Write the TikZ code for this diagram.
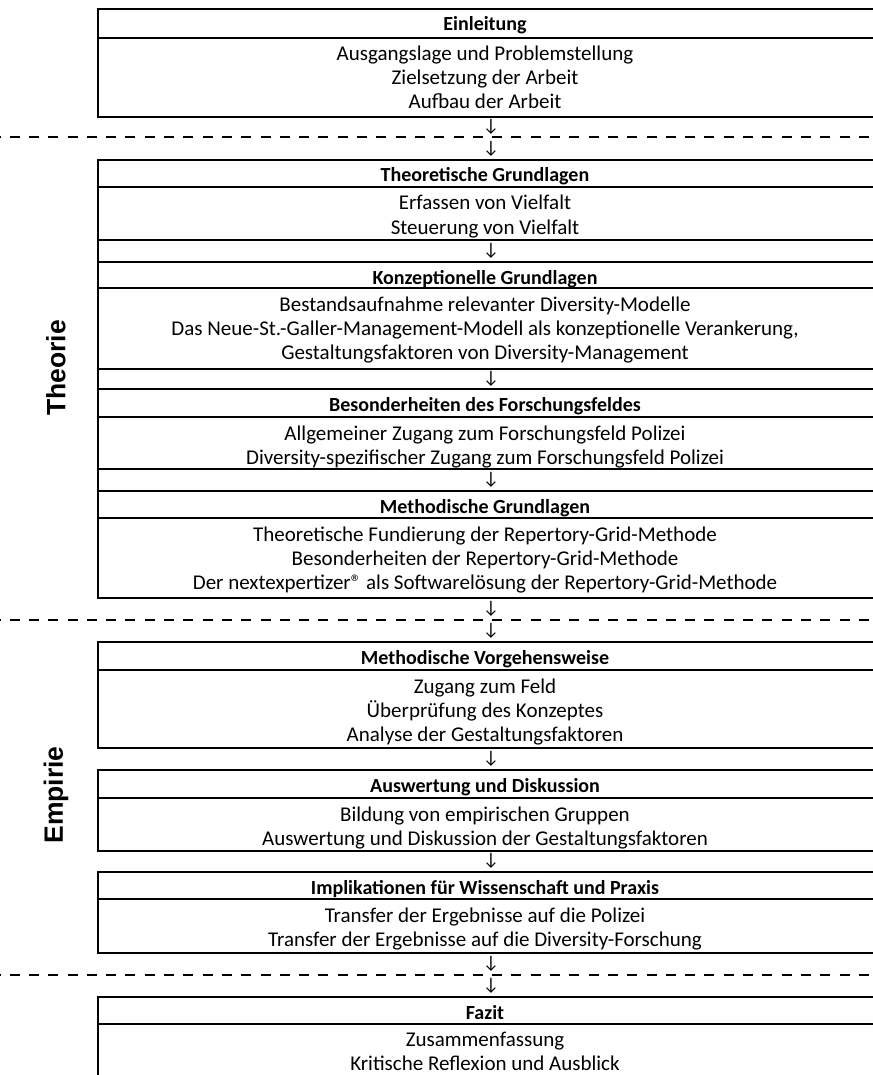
\documentclass[tikz,border=0pt]{standalone}
\usepackage{fontspec}
\setmainfont{Carlito}
\newfontfamily\sidefont{Liberation Sans}

% horizontal rule of the table
\newcommand\tabrule[1]{\draw[rule] (98,#1) -- (872,#1);}
% dashed separator between the parts
\newcommand\partrule[1]{\draw[partsep] (0,#1) -- (872,#1);}

\begin{document}
\begin{tikzpicture}[x=1pt,y=-1pt,
  rule/.style={line width=2.6pt, line cap=rect},
  partsep/.style={line width=2.8pt, dash pattern=on 10pt off 9.3pt, dash phase=9.7pt},
  head/.style={font=\fontsize{20}{24}\selectfont\bfseries, anchor=base, inner sep=0pt},
  body/.style={font=\fontsize{21}{24}\selectfont, anchor=base, inner sep=0pt},
  down/.style={font=\fontsize{18}{20}\selectfont, anchor=center, inner sep=0pt},
  side/.style={font=\sidefont\fontsize{26.5}{30}\selectfont\bfseries, rotate=90, anchor=center, inner sep=0pt}]
\useasboundingbox (0,0) rectangle (872,1075);

% ---------- Einleitung ----------
\tabrule{9}\tabrule{38}\tabrule{117}
\draw[rule] (98,9) -- (98,117);
\node[head] (h1) at (485,31) {Einleitung};
\node[body] (e1) at (485,61) {Ausgangslage und Problemstellung};
\node[body] (e2) at (485,85) {Zielsetzung der Arbeit};
\node[body] (e3) at (485,109) {Aufbau der Arbeit};

\partrule{137}
\node[down] (a1) at (491,127) {↓};
\node[down] (a2) at (491,149) {↓};

% ---------- Theorie ----------
\tabrule{160}\tabrule{187}\tabrule{240}\tabrule{262}\tabrule{288}
\tabrule{369}\tabrule{389}\tabrule{417}\tabrule{469}\tabrule{491}
\tabrule{518}\tabrule{598}
\draw[rule] (98,160) -- (98,598);
\node[side] (theorie) at (56,368) {Theorie};

\node[head] (h2) at (485,182) {Theoretische Grundlagen};
\node[body] (t1) at (485,210) {Erfassen von Vielfalt};
\node[body] (t2) at (485,234) {Steuerung von Vielfalt};
\node[down] (a3) at (491,251) {↓};

\node[head] (h3) at (485,284) {Konzeptionelle Grundlagen};
\node[body] (k1) at (485,311) {Bestandsaufnahme relevanter Diversity-Modelle};
\node[body] (k2) at (485,335) {Das Neue-St.-Galler-Management-Modell als konzeptionelle Verankerung,};
\node[body] (k3) at (485,359) {Gestaltungsfaktoren von Diversity-Management};
\node[down] (a4) at (491,379) {↓};

\node[head] (h4) at (485,411) {Besonderheiten des Forschungsfeldes};
\node[body] (b1) at (485,440) {Allgemeiner Zugang zum Forschungsfeld Polizei};
\node[body] (b2) at (485,464) {Diversity-spezifischer Zugang zum Forschungsfeld Polizei};
\node[down] (a5) at (491,480) {↓};

\node[head] (h5) at (485,513) {Methodische Grundlagen};
\node[body] (m1) at (485,541) {Theoretische Fundierung der Repertory-Grid-Methode};
\node[body] (m2) at (485,565) {Besonderheiten der Repertory-Grid-Methode};
\node[body] (m3) at (485,589) {Der nextexpertizer® als Softwarelösung der Repertory-Grid-Methode};

\partrule{620}
\node[down] (a6) at (491,609) {↓};
\node[down] (a7) at (491,631) {↓};

% ---------- Empirie ----------
\node[side] (empirie) at (56,795) {Empirie};

\tabrule{642}\tabrule{670}\tabrule{748}
\draw[rule] (98,642) -- (98,748);
\node[head] (h6) at (485,664) {Methodische Vorgehensweise};
\node[body] (v1) at (485,693) {Zugang zum Feld};
\node[body] (v2) at (485,717) {Überprüfung des Konzeptes};
\node[body] (v3) at (485,741) {Analyse der Gestaltungsfaktoren};
\node[down] (a8) at (491,759) {↓};

\tabrule{770}\tabrule{798}\tabrule{851}
\draw[rule] (98,770) -- (98,851);
\node[head] (h7) at (485,792) {Auswertung und Diskussion};
\node[body] (w1) at (485,821) {Bildung von empirischen Gruppen};
\node[body] (w2) at (485,845) {Auswertung und Diskussion der Gestaltungsfaktoren};
\node[down] (a9) at (491,861) {↓};

\tabrule{872}\tabrule{899}\tabrule{953}
\draw[rule] (98,872) -- (98,953);
\node[head] (h8) at (485,894) {Implikationen für Wissenschaft und Praxis};
\node[body] (i1) at (485,922) {Transfer der Ergebnisse auf die Polizei};
\node[body] (i2) at (485,946) {Transfer der Ergebnisse auf die Diversity-Forschung};

\partrule{975}
\node[down] (a10) at (491,964) {↓};
\node[down] (a11) at (491,986) {↓};

% ---------- Fazit ----------
\tabrule{997}\tabrule{1024}
\draw[rule] (98,997) -- (98,1080);
\node[head] (h9) at (485,1019) {Fazit};
\node[body] (f1) at (485,1046) {Zusammenfassung};
\node[body] (f2) at (485,1070) {Kritische Reflexion und Ausblick};
\end{tikzpicture}
\end{document}
